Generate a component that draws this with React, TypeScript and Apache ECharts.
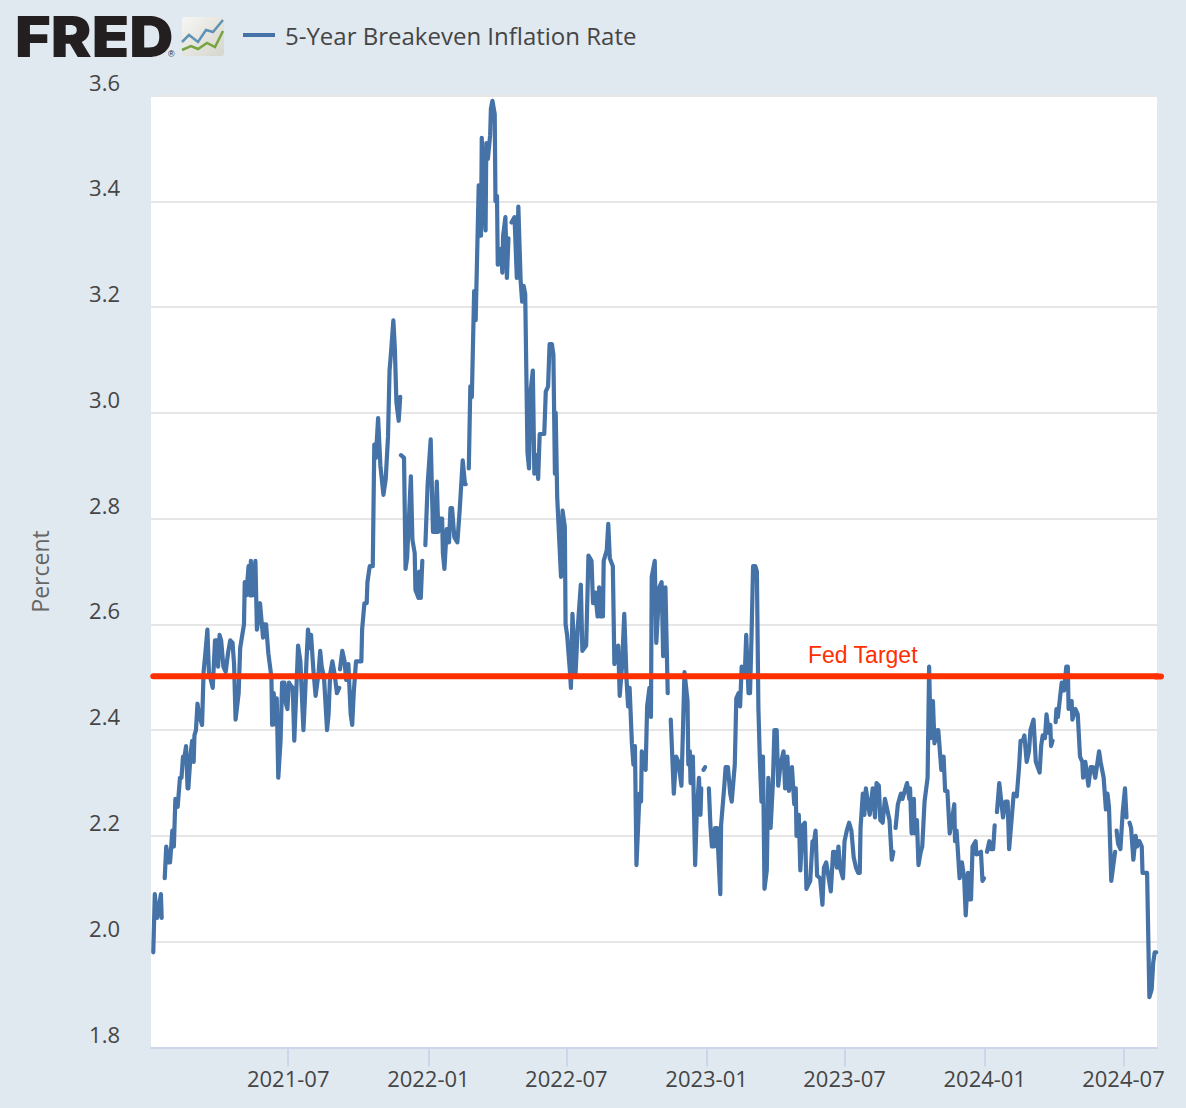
import React, { useEffect, useRef } from "react";
import * as echarts from "echarts";

const SERIES_NAME = "5-Year Breakeven Inflation Rate";
const AXIS_NAME = "Percent";
const TARGET_LABEL = "Fed Target";
const TARGET_VALUE = 2.502;
const START = Date.UTC(2021, 0, 2);
const AXIS_END_DAY = 1320;
const TARGET_DAYS = [3, 1320];
const TICK_MONTHS = ["2021-07", "2022-01", "2022-07", "2023-01", "2023-07", "2024-01", "2024-07"];

// [days since 2021-01-02, percent]; each list is a run of data between missing observations
const run1 = [[3,1.98],[5,2.09],[8,2.045],[11,2.07],[13,2.09],[14,2.045]];
const run2 = [[18,2.12],[20,2.18],[23,2.15],[25,2.15],[28,2.21],[30,2.18],[32,2.27],[35,2.255],[38,2.31],[40,2.31],[42,2.35],[44,2.35],[46,2.37],[48,2.29],[49,2.29],[52,2.355],[54,2.38],[56,2.34],[57,2.39],[59,2.4],[61,2.45],[63,2.43],[67,2.41],[69,2.51],[71,2.54],[74,2.59],[76,2.51],[81,2.48],[84,2.57],[86,2.57],[88,2.52],[90,2.58],[92,2.57],[95,2.52],[98,2.51],[101,2.545],[104,2.57],[107,2.565],[109,2.525],[111,2.42],[115,2.47],[117,2.555],[122,2.6],[123,2.68],[125,2.655],[128,2.71],[130,2.655],[131,2.72],[133,2.655],[137,2.72],[139,2.59],[143,2.64],[147,2.575],[149,2.6],[151,2.6],[154,2.545],[158,2.5],[159,2.41],[161,2.47],[164,2.41],[165,2.46],[167,2.31],[170,2.38],[172,2.49],[175,2.49],[177,2.45],[179,2.44],[181,2.49],[183,2.485],[186,2.48],[188,2.38],[190,2.45],[193,2.56],[196,2.53],[200,2.4],[202,2.46],[204,2.53],[206,2.59],[209,2.555],[210,2.58],[213,2.515],[216,2.465],[220,2.51],[222,2.55],[224,2.52],[227,2.5],[231,2.4],[233,2.43],[235,2.505],[238,2.53],[241,2.505],[244,2.47],[247,2.48]];
const run3 = [[248,2.515],[251,2.55],[254,2.53],[256,2.495],[259,2.525],[262,2.43],[264,2.41],[266,2.47],[269,2.53],[272,2.53],[276,2.53],[277,2.59],[280,2.64],[283,2.64],[284,2.68],[287,2.71],[291,2.71],[293,2.94],[295,2.915],[298,2.99],[301,2.9],[305,2.845],[308,2.875],[311,2.955],[313,3.08],[315,3.115],[318,3.175],[320,3.12],[322,3.02],[325,2.985],[327,3.03]];
const run4 = [[328,2.92],[332,2.915],[334,2.705],[336,2.725],[341,2.88],[343,2.76],[346,2.735],[347,2.665],[351,2.65],[352,2.7],[354,2.65],[356,2.72]];
const run5 = [[360,2.75],[363,2.865],[367,2.95],[370,2.775],[373,2.775],[375,2.87],[377,2.775],[379,2.8],[382,2.8],[383,2.735],[385,2.705],[388,2.78],[391,2.755],[393,2.82],[395,2.82],[398,2.765],[402,2.755],[405,2.815],[409,2.91],[412,2.865],[413,2.865]];
const run6 = [[417,2.895],[419,3.05],[421,3.03],[424,3.23],[426,3.175],[430,3.43],[433,3.335],[434,3.52],[436,3.42],[439,3.345],[440,3.51],[442,3.48],[445,3.525],[446,3.575],[448,3.59],[451,3.565],[452,3.4],[454,3.41],[455,3.28],[459,3.31],[461,3.265],[462,3.335],[465,3.37],[467,3.255],[469,3.33]];
const run7 = [[473,3.36],[477,3.37],[480,3.255],[482,3.39],[485,3.25],[487,3.21],[489,3.24],[491,3.225],[494,2.925],[496,2.895],[498,3.04],[501,3.08],[503,2.885],[506,2.92],[508,2.875],[510,2.96],[513,2.96],[516,2.96],[518,3.04],[521,3.05],[523,3.13],[526,3.13],[528,3.11],[530,2.885],[531,3.0],[533,2.84],[538,2.69],[540,2.815],[543,2.785],[544,2.6],[546,2.58],[550,2.505],[551,2.48],[553,2.62],[557,2.505],[560,2.595],[564,2.675],[566,2.55],[571,2.56],[574,2.73],[578,2.72],[580,2.64],[583,2.66],[586,2.615],[588,2.67],[589,2.615],[593,2.615],[594,2.72],[598,2.74],[600,2.79],[602,2.725],[606,2.71],[608,2.525],[613,2.56],[615,2.465],[618,2.52],[621,2.62],[624,2.495],[626,2.445],[628,2.48],[631,2.375],[633,2.335],[635,2.37],[637,2.145],[641,2.28],[643,2.265],[644,2.36],[649,2.325],[651,2.445],[654,2.48],[656,2.425],[657,2.69],[661,2.72],[663,2.565],[667,2.67],[670,2.68],[672,2.54],[675,2.67],[678,2.47]];
const run8 = [[682,2.42],[686,2.28],[689,2.35],[692,2.34],[696,2.295],[698,2.4],[700,2.51],[704,2.455],[705,2.335],[707,2.36],[708,2.3],[711,2.35],[714,2.145],[716,2.24],[719,2.31],[721,2.24],[722,2.29]];
const run9 = [[725,2.325],[727,2.33]];
const run10 = [[732,2.29],[734,2.22],[736,2.18],[739,2.18],[740,2.215],[743,2.215],[744,2.18],[747,2.09],[748,2.22],[752,2.29],[754,2.33],[757,2.33],[760,2.28],[762,2.265],[766,2.335],[768,2.46],[771,2.47],[773,2.445],[775,2.52],[778,2.515],[779,2.5],[781,2.58],[784,2.47],[786,2.47],[788,2.58],[790,2.71],[793,2.71],[795,2.7],[797,2.44],[799,2.34],[801,2.265],[803,2.35],[805,2.1],[808,2.135],[810,2.31],[813,2.215],[816,2.3],[818,2.4],[821,2.4],[823,2.295],[826,2.335],[830,2.36],[832,2.29],[835,2.35],[837,2.285],[841,2.33],[844,2.26],[846,2.29],[847,2.2],[850,2.24],[852,2.135],[855,2.22],[858,2.225],[860,2.1],[865,2.115],[868,2.19],[870,2.19],[872,2.21],[874,2.125],[878,2.12],[881,2.07],[883,2.14],[886,2.15],[892,2.095],[895,2.17],[897,2.17],[900,2.14],[902,2.18],[904,2.14],[908,2.12],[910,2.19],[913,2.21],[916,2.225],[919,2.21],[922,2.16],[925,2.14],[928,2.13],[930,2.13],[931,2.215],[934,2.28],[936,2.24],[938,2.29],[943,2.24],[947,2.29],[950,2.235],[952,2.3],[955,2.295],[957,2.23],[960,2.225],[963,2.27],[966,2.25],[969,2.23],[972,2.155],[974,2.17]];
const run11 = [[977,2.215],[980,2.26],[984,2.28],[986,2.27],[989,2.285],[992,2.3],[995,2.27],[996,2.29],[998,2.205],[1001,2.27],[1002,2.205],[1005,2.23],[1007,2.145],[1010,2.17],[1012,2.18],[1015,2.265],[1019,2.31],[1021,2.52],[1023,2.385],[1026,2.455],[1028,2.375],[1032,2.4],[1033,2.4],[1037,2.325],[1040,2.35],[1042,2.285],[1045,2.285],[1048,2.205],[1051,2.23],[1054,2.26],[1055,2.19],[1057,2.21],[1061,2.12],[1064,2.15],[1067,2.12],[1069,2.05],[1072,2.13],[1074,2.08],[1076,2.08],[1078,2.18],[1082,2.19],[1083,2.165],[1089,2.17],[1091,2.115],[1093,2.12]];
const run12 = [[1097,2.17],[1100,2.19],[1102,2.175],[1105,2.175],[1107,2.22]];
const run13 = [[1110,2.245],[1113,2.3],[1118,2.235],[1121,2.265],[1124,2.265],[1126,2.175],[1130,2.245],[1132,2.28],[1136,2.275],[1139,2.33],[1141,2.38],[1144,2.38],[1146,2.39],[1149,2.34],[1152,2.36],[1154,2.4],[1158,2.42],[1161,2.34],[1166,2.32],[1168,2.37],[1170,2.39],[1173,2.385],[1175,2.43],[1178,2.395],[1180,2.41],[1181,2.37],[1183,2.38]];
const run14 = [[1187,2.415],[1188,2.44],[1190,2.425],[1193,2.465],[1195,2.49],[1198,2.475],[1201,2.52],[1203,2.52],[1204,2.44],[1208,2.455],[1209,2.42],[1213,2.44],[1216,2.43],[1219,2.35],[1222,2.34],[1223,2.31],[1226,2.34],[1230,2.295],[1233,2.33],[1236,2.33],[1239,2.31],[1241,2.33],[1244,2.36],[1246,2.34],[1250,2.31],[1253,2.25],[1255,2.28],[1257,2.255],[1260,2.115],[1265,2.17]];
const run15 = [[1267,2.21],[1269,2.185],[1272,2.175],[1275,2.245],[1278,2.29],[1280,2.235]];
const run16 = [[1284,2.225],[1286,2.215],[1289,2.155],[1292,2.2],[1294,2.18],[1297,2.19],[1300,2.18],[1301,2.13],[1305,2.13],[1307,2.13],[1310,1.895],[1313,1.91],[1315,1.96],[1317,1.98],[1319,1.98]];

const RUNS = [run1, run2, run3, run4, run5, run6, run7, run8, run9, run10, run11, run12, run13, run14, run15, run16];

const DAY_MS = 86400000;
const monthToDay = (m: string) => {
  const [y, mo] = m.split("-").map(Number);
  return Math.round((Date.UTC(y, mo - 1, 1) - START) / DAY_MS);
};

const lineData: any[] = [];
RUNS.forEach((run, i) => {
  run.forEach(([d, v]) => lineData.push([d, v]));
  if (i < RUNS.length - 1) lineData.push([run[run.length - 1][0] + 1, null]);
});

const FONT = "'Open Sans', sans-serif";
const TEXT = "#454545";
const RED = "#ff2f00";

export default function App() {
  const ref = useRef<HTMLDivElement>(null);
  useEffect(() => {
    document.body.style.margin = "0";
    document.body.style.background = "#e1e9f0";
    const chart = echarts.init(ref.current!, undefined, { renderer: "svg" });
    const ticks = TICK_MONTHS.map(monthToDay);
    chart.setOption({
      animation: false,
      backgroundColor: "#e1e9f0",
      textStyle: { fontFamily: FONT },
      grid: { left: 151, right: 29, top: 95.5, bottom: 60.5, backgroundColor: "#ffffff", show: true, borderWidth: 0 },
      legend: {
        data: [SERIES_NAME],
        left: 238,
        top: 18,
        icon: "rect",
        itemWidth: 32,
        itemHeight: 4,
        itemGap: 10,
        textStyle: { fontFamily: FONT, fontSize: 24, color: TEXT, padding: [0, 0, 0, 5] },
        selectedMode: false,
      },
      xAxis: {
        type: "value",
        min: 0,
        max: AXIS_END_DAY,
        axisLine: { show: true, lineStyle: { color: "#ccd6eb", width: 2 } },
        axisTick: { show: true, length: 19, customValues: ticks, lineStyle: { color: "#ccd6eb", width: 2 } },
        axisLabel: {
          customValues: ticks,
          color: TEXT,
          fontFamily: FONT,
          fontSize: 22,
          margin: 19,
          formatter: (v: number) => TICK_MONTHS[ticks.indexOf(v)] ?? "",
        },
        splitLine: { show: false },
      },
      yAxis: {
        type: "value",
        min: 1.8,
        max: 3.6,
        interval: 0.2,
        name: AXIS_NAME,
        nameLocation: "middle",
        nameGap: 100,
        nameRotate: 90,
        nameTextStyle: { color: "#666666", fontFamily: FONT, fontSize: 23 },
        axisLine: { show: false },
        axisTick: { show: false },
        axisLabel: {
          color: TEXT,
          fontFamily: FONT,
          fontSize: 22,
          margin: 31,
          verticalAlign: "bottom",
          padding: [0, 0, 3, 0],
          formatter: (v: number) => v.toFixed(1),
        },
        splitLine: { show: true, lineStyle: { color: "#e6e6e6", width: 2 } },
      },
      series: [
        {
          name: SERIES_NAME,
          type: "line",
          data: lineData,
          showSymbol: false,
          symbol: "none",
          connectNulls: false,
          color: "#4572a7",
          lineStyle: { color: "#4572a7", width: 4.2, join: "round", cap: "round" },
          z: 3,
        },
        {
          name: TARGET_LABEL,
          type: "line",
          data: TARGET_DAYS.map((d) => [d, TARGET_VALUE]),
          showSymbol: false,
          symbol: "none",
          clip: false,
          lineStyle: { color: RED, width: 6, cap: "round" },
          z: 5,
        },
      ],
      graphic: [
        { type: "line", z: 10, shape: { x1: 1156, y1: 676.4, x2: 1161, y2: 676.4 }, style: { stroke: RED, lineWidth: 6, lineCap: "round" } },
        { type: "text", x: 808, y: 643, z: 10, style: { text: TARGET_LABEL, fill: RED, font: "23px 'Liberation Sans', Arial, sans-serif" } },
        { type: "text", x: 15, y: 8, z: 10, scaleX: 1.075, style: { text: "FRED", fill: "#231f20", font: "900 57px Inter, sans-serif" } },
        { type: "text", x: 168, y: 49, z: 10, style: { text: "®", fill: "#231f20", font: "9px 'Liberation Sans', sans-serif" } },
        {
          type: "rect", z: 10,
          shape: { x: 182, y: 17, width: 42, height: 39, r: 3 },
          style: { fill: new echarts.graphic.LinearGradient(0, 0, 1, 1, [
            { offset: 0, color: "#f6f6f4" }, { offset: 1, color: "#d5d6cc" },
          ]) },
        },
        { type: "polyline", z: 11, shape: { points: [[182,42],[189,35],[198,42],[206,30],[213,32],[223,20]] }, style: { stroke: "#5f93b5", lineWidth: 2.5, fill: "none" } },
        { type: "polyline", z: 11, shape: { points: [[182,50],[191,46],[198,49],[207,43],[215,47],[223,31]] }, style: { stroke: "#78a341", lineWidth: 2.5, fill: "none" } },
      ],
    });
    return () => chart.dispose();
  }, []);
  return <div ref={ref} style={{ width: 1186, height: 1108 }} />;
}
